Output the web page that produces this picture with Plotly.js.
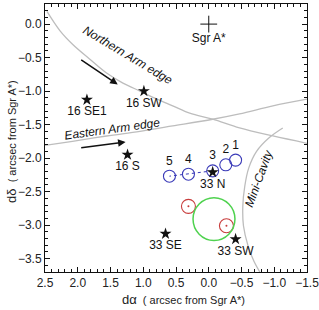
<!DOCTYPE html>
<html><head><meta charset="utf-8">
<script src="https://cdn.plot.ly/plotly-3.0.1.min.js"></script>
<style>html,body{margin:0;padding:0;background:#fff}#c{width:319px;height:310px}</style>
</head><body><div id="c"></div>
<script>
// Stars (sources)
const starNames = ['16 SW', '16 SE1', '16 S', '33 N', '33 SE', '33 SW'];
const starX = [0.99, 1.86, 1.24, -0.06, 0.66, -0.41];
const starY = [-1.00, -1.13, -1.95, -2.21, -3.13, -3.21];
// Sgr A*
const sgrX = [0.0], sgrY = [0.0], sgrName = ['Sgr A*'];
// Blue epochs
const blueNames = ['1', '2', '3', '4', '5'];
const blueX = [-0.41, -0.26, -0.06, 0.31, 0.60];
const blueY = [-2.03, -2.10, -2.19, -2.24, -2.27];
// Red circles
const redX = [0.31, -0.27];
const redY = [-2.72, -3.01];
// Green circle (center, radius)
const greenC = [-0.08, -2.91], greenR = 0.32;
// Northern Arm edge curve
const northX = [2.47, 2.27, 2.08, 1.82, 1.56, 1.31, 1.05, 0.79, 0.55, 0.29, -0.06, -0.47, -0.98, -1.50];
const northY = [0.19, -0.10, -0.30, -0.52, -0.73, -0.88, -1.00, -1.12, -1.22, -1.33, -1.42, -1.55, -1.67, -1.78];
// Eastern Arm edge curve
const eastX = [2.50, 2.08, 1.56, 1.05, 0.55, -0.06, -0.47, -0.98, -1.50];
const eastY = [-1.81, -1.75, -1.67, -1.60, -1.52, -1.42, -1.34, -1.22, -1.12];
// Mini-Cavity arc
const cavX = [-1.13, -0.93, -0.73, -0.61, -0.55, -0.52, -0.53, -0.60, -0.69, -0.78];
const cavY = [-1.55, -1.69, -1.90, -2.15, -2.42, -2.72, -3.01, -3.31, -3.54, -3.70];
// Arrows [tailX, tailY, headX, headY]
const arrowN = [1.97, -0.52, 1.39, -0.90];
const arrowE = [1.97, -1.85, 1.27, -1.76];

const gray = '#bdbdbd';
const F = 'Liberation Sans, Arial, sans-serif';
const traces = [
  {x: northX, y: northY, mode: 'lines', line: {color: gray, width: 1.3, shape: 'spline'}},
  {x: eastX, y: eastY, mode: 'lines', line: {color: gray, width: 1.3, shape: 'spline'}},
  {x: cavX, y: cavY, mode: 'lines', line: {color: gray, width: 1.3, shape: 'spline'}},
  {x: blueX.slice(2), y: blueY.slice(2), mode: 'lines', line: {color: '#3a3ab8', width: 1, dash: 'dot'}},
  {x: blueX, y: blueY, mode: 'markers+text', text: blueNames, textposition: 'top center',
   textfont: {size: 12, color: '#111', family: F},
   marker: {symbol: 'circle-open', size: 12, color: '#3a3ab8', line: {width: 1.1}}},
  {x: redX, y: redY, mode: 'markers', marker: {symbol: 'circle-open', size: 14, color: '#c83c3c', line: {width: 1.1}}},
  {x: redX, y: redY, mode: 'markers', marker: {symbol: 'circle', size: 2, color: '#c83c3c'}},
  {x: starX, y: starY, mode: 'markers+text', text: starNames, textposition: 'bottom center',
   textfont: {size: 12, color: '#111', family: F},
   marker: {symbol: 'star', size: 9, color: '#111'}},
  {x: sgrX, y: sgrY, mode: 'markers+text', text: sgrName, textposition: 'bottom center',
   textfont: {size: 12, color: '#111', family: F},
   marker: {symbol: 'cross-thin-open', size: 12, color: '#111', line: {width: 1, color: '#111'}}}
];

function arrow(a) {
  return {x: a[2], y: a[3], ax: a[0], ay: a[1], xref: 'x', yref: 'y', axref: 'x', ayref: 'y',
    showarrow: true, arrowhead: 2, arrowsize: 1, arrowwidth: 1.5, arrowcolor: '#111', text: ''};
}

const layout = {
  width: 319, height: 310,
  margin: {l: 45, r: 12, t: 4, b: 38},
  paper_bgcolor: '#fff', plot_bgcolor: '#fff',
  showlegend: false,
  font: {family: F, size: 12, color: '#222'},
  xaxis: {range: [2.5, -1.5001], dtick: 0.5, tick0: 0, tickformat: '.1f', showgrid: false, zeroline: false,
    showline: true, linecolor: '#111', linewidth: 1, mirror: 'ticks', ticks: 'inside', ticklen: 5, tickcolor: '#111',
    ticklabeloverflow: 'allow',
    minor: {dtick: 0.1, ticks: 'inside', ticklen: 3, tickcolor: '#111', showgrid: false},
    tickfont: {size: 12, color: '#222'}},
  yaxis: {range: [-3.7, 0.3], dtick: 0.5, tick0: 0, tickformat: '.1f', showgrid: false, zeroline: false,
    showline: true, linecolor: '#111', linewidth: 1, mirror: 'ticks', ticks: 'inside', ticklen: 5, tickcolor: '#111',
    minor: {dtick: 0.1, ticks: 'inside', ticklen: 3, tickcolor: '#111', showgrid: false},
    tickfont: {size: 12, color: '#222'}},
  shapes: [{type: 'circle', xref: 'x', yref: 'y', x0: greenC[0] - greenR, x1: greenC[0] + greenR,
    y0: greenC[1] - greenR, y1: greenC[1] + greenR, line: {color: '#4fd24f', width: 1.5}}],
  annotations: [
    arrow(arrowN), arrow(arrowE),
    {x: 1.24, y: -0.46, xref: 'x', yref: 'y', text: 'Northern Arm edge', showarrow: false, textangle: 31,
     font: {size: 12, style: 'italic', color: '#111'}},
    {x: 1.47, y: -1.57, xref: 'x', yref: 'y', text: 'Eastern Arm edge', showarrow: false, textangle: -8,
     font: {size: 12, style: 'italic', color: '#111'}},
    {x: -0.76, y: -2.31, xref: 'x', yref: 'y', text: 'Mini-Cavity', showarrow: false, textangle: -70,
     font: {size: 12, style: 'italic', color: '#111'}},
    {x: 0.53, y: -0.104, xref: 'paper', yref: 'paper', xanchor: 'center', yanchor: 'middle', showarrow: false,
     text: '<span style="font-size:13px">dα</span>  ( arcsec from Sgr A*)', font: {size: 11, color: '#222'}},
    {x: -0.126, y: 0.489, xref: 'paper', yref: 'paper', xanchor: 'center', yanchor: 'middle', showarrow: false,
     textangle: -90, text: '<span style="font-size:13px">dδ</span>  ( arcsec from Sgr A*)', font: {size: 11, color: '#222'}}
  ]
};
Plotly.newPlot('c', traces, layout, {displayModeBar: false, staticPlot: true});
</script></body></html>
